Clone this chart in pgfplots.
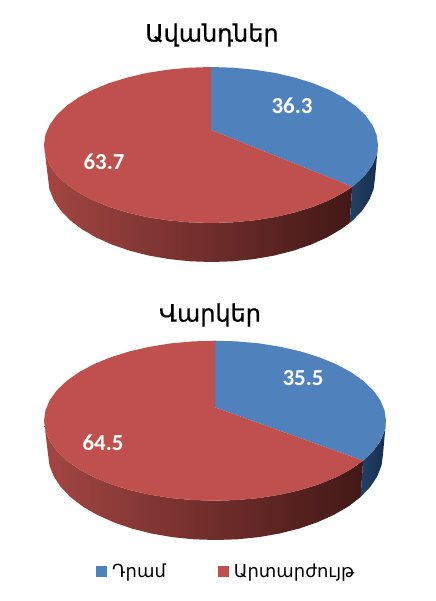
\documentclass[border=0pt]{standalone}
\usepackage{fontspec}
\usepackage{pgfplots}
\pgfplotsset{compat=1.18}
\setmainfont{Liberation Sans}
\newfontfamily\armfont{DejaVu Sans}
\newfontfamily\armtitle[FakeBold=0.6]{DejaVu Sans}
\newfontfamily\numfont{Carlito}
\definecolor{pieblue}{RGB}{79,129,189}
\definecolor{piered}{RGB}{192,80,77}
\definecolor{sideredL}{RGB}{163,70,67}
\definecolor{sideredM}{RGB}{112,45,43}
\definecolor{sideredR}{RGB}{66,24,22}
\definecolor{sideblueL}{RGB}{22,46,78}
\definecolor{sideblueR}{RGB}{36,64,100}
\begin{document}
\begin{tikzpicture}
\begin{axis}[
  x=1bp,y=1bp,y dir=reverse,
  xmin=0,xmax=436,ymin=0,ymax=601,
  hide axis,clip=false,
  legend style={at={(axis cs:96,571)},anchor=west,draw=none,fill=none,
    font=\armfont\fontsize{18}{21}\selectfont,legend columns=2,
    /tikz/every even column/.append style={column sep=50bp},
    /tikz/every odd column/.append style={column sep=3bp},
    inner sep=0pt,row sep=0pt},
  legend image code/.code={\fill[#1] (0bp,-5.5bp) rectangle (11bp,5.5bp);},
  legend cell align=left,
]
\path (axis cs:0,0) (axis cs:436,601);
% --- Ավանդներ: side walls
\addplot[forget plot,draw=none,left color=sideredL,middle color=sideredM,right color=sideredR] coordinates {
(352.2,186.7)(343.5,192.5)(329.1,200.2)(312.7,206.9)(294.5,212.5)(274.9,217.1)(254.2,220.3)(232.8,222.3)(211,223)(189.2,222.3)(167.8,220.3)(147.1,217.1)(127.5,212.5)(109.3,206.9)(92.9,200.2)(78.5,192.5)(66.4,184)(56.7,174.9)(49.7,165.2)(45.4,155.2)(44,145)
(48,178)(49.4,189)(53.6,199.7)(60.4,210.1)(69.9,220)(81.8,229.1)(95.9,237.4)(112,244.6)(129.7,250.7)(148.9,255.6)(169.2,259.1)(190.2,261.3)(211.5,262)(232.8,261.3)(253.8,259.1)(274.1,255.6)(293.3,250.7)(311,244.6)(327.1,237.4)(341.2,229.1)(349.7,222.9)
} -- cycle;
\addplot[forget plot,draw=none,left color=sideblueR,right color=sideblueL] coordinates {
(352.2,186.7)(355.6,184)(365.3,174.9)(372.3,165.2)(376.6,155.2)(378,145)(375,178)(373.6,189)(369.4,199.7)(362.6,210.1)(353.1,220)(349.7,222.9)
} -- cycle;
% --- Ավանդներ: top face, 36.3 / 63.7
\addplot[forget plot,draw=none,fill=pieblue] coordinates {
(211,130)(211,67)(232.8,67.7)(254.2,69.7)(274.9,72.9)(294.5,77.5)(312.7,83.1)(329.1,89.8)(343.5,97.5)(355.6,106)(365.3,115.1)(372.3,124.8)(376.6,134.8)(378,145)(376.6,155.2)(372.3,165.2)(365.3,174.9)(355.6,184)(352.2,186.7)
} -- cycle;
\addplot[forget plot,draw=none,fill=piered] coordinates {
(211,130)(352.2,186.7)(343.5,192.5)(329.1,200.2)(312.7,206.9)(294.5,212.5)(274.9,217.1)(254.2,220.3)(232.8,222.3)(211,223)(189.2,222.3)(167.8,220.3)(147.1,217.1)(127.5,212.5)(109.3,206.9)(92.9,200.2)(78.5,192.5)(66.4,184)(56.7,174.9)(49.7,165.2)(45.4,155.2)(44,145)(45.4,134.8)(49.7,124.8)(56.7,115.1)(66.4,106)(78.5,97.5)(92.9,89.8)(109.3,83.1)(127.5,77.5)(147.1,72.9)(167.8,69.7)(189.2,67.7)(211,67)
} -- cycle;
% --- Վարկեր: side walls
\addplot[forget plot,draw=none,left color=sideredL,middle color=sideredM,right color=sideredR] coordinates {
(363.1,460.7)(350.7,469.4)(335.9,477.3)(319.1,484.2)(300.5,490)(280.4,494.6)(259.3,498)(237.3,500)(215,500.7)(192.7,500)(170.7,498)(149.6,494.6)(129.5,490)(110.9,484.2)(94.1,477.3)(79.3,469.4)(66.9,460.7)(57,451.3)(49.8,441.4)(45.5,431.1)(44,420.7)
(48,454)(49.4,465.2)(53.7,476.3)(60.7,486.9)(70.4,497)(82.6,506.4)(97.1,514.8)(113.5,522.2)(131.7,528.5)(151.4,533.5)(172.1,537.1)(193.6,539.3)(215.5,540)(237.4,539.3)(258.9,537.1)(279.6,533.5)(299.3,528.5)(317.5,522.2)(333.9,514.8)(348.4,506.4)(360.6,497)
} -- cycle;
\addplot[forget plot,draw=none,left color=sideblueR,right color=sideblueL] coordinates {
(363.1,460.7)(373,451.3)(380.2,441.4)(384.5,431.1)(386,420.7)(383,454)(381.6,465.2)(377.3,476.3)(370.3,486.9)(360.6,497)
} -- cycle;
% --- Վարկեր: top face, 35.5 / 64.5 (these two carry the legend)
\addplot[draw=none,fill=pieblue] coordinates {
(215,407.3)(215,340.7)(237.3,341.4)(259.3,343.4)(280.4,346.8)(300.5,351.4)(319.1,357.2)(335.9,364.1)(350.7,372)(363.1,380.7)(373,390.1)(380.2,400)(384.5,410.3)(386,420.7)(384.5,431.1)(380.2,441.4)(373,451.3)(363.1,460.7)
} -- cycle;
\addlegendentry{Դրամ}
\addplot[draw=none,fill=piered] coordinates {
(215,407.3)(363.1,460.7)(350.7,469.4)(335.9,477.3)(319.1,484.2)(300.5,490)(280.4,494.6)(259.3,498)(237.3,500)(215,500.7)(192.7,500)(170.7,498)(149.6,494.6)(129.5,490)(110.9,484.2)(94.1,477.3)(79.3,469.4)(66.9,460.7)(57,451.3)(49.8,441.4)(45.5,431.1)(44,420.7)(45.5,410.3)(49.8,400)(57,390.1)(66.9,380.7)(79.3,372)(94.1,364.1)(110.9,357.2)(129.5,351.4)(149.6,346.8)(170.7,343.4)(192.7,341.4)(215,340.7)
} -- cycle;
\addlegendentry{Արտարժույթ}
% --- texts
\node[font=\armtitle\fontsize{24}{28}\selectfont,text=black] at (axis cs:212,35) {Ավանդներ};
\node[font=\armtitle\fontsize{24}{28}\selectfont,text=black] at (axis cs:210,315) {Վարկեր};
\node[font=\numfont\bfseries\fontsize{23}{27}\selectfont,text=white] at (axis cs:292,106) {36.3};
\node[font=\numfont\bfseries\fontsize{23}{27}\selectfont,text=white] at (axis cs:104,162) {63.7};
\node[font=\numfont\bfseries\fontsize{23}{27}\selectfont,text=white] at (axis cs:303,378) {35.5};
\node[font=\numfont\bfseries\fontsize{23}{27}\selectfont,text=white] at (axis cs:103,443) {64.5};
\end{axis}
\end{tikzpicture}
\end{document}
